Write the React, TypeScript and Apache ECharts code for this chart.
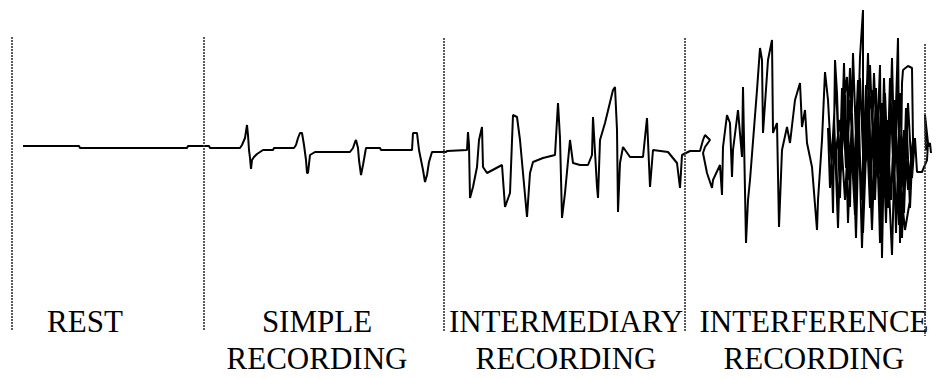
import React, { useEffect, useRef } from "react";
import * as echarts from "echarts";

// Time (arbitrary units, left → right) and amplitude (arbitrary units, up = positive)
const restTime = [23, 79, 80, 187, 188, 209, 210];
const restAmp = [2, 2, 0, 0, 2, 2, 0];

const simpleTime = [240, 242, 245, 247, 248, 249, 250, 251, 252, 254, 257, 260, 263, 273, 274, 294, 296, 298, 300, 302, 304, 306, 307, 308, 310, 315, 350, 353, 355, 356, 358, 359, 361, 363, 366, 380, 381, 412, 413, 417, 419, 421, 423, 425, 427, 429, 432, 446];
const simpleAmp = [0, 3, 10, 23, 13, -2, -10, -21, -12, -9, -6, -4, -2, -2, 0, 0, 3, 10, 15, 15, 3, -12, -25, -25, -7, -4, -4, 0, 6, 8, 0, -12, -27, -17, 0, 0, -2, -2, 15, 15, -2, -12, -22, -34, -27, -14, -4, -4];

const intermediaryTime = [447, 467, 468, 469, 470, 473, 477, 479, 482, 483, 487, 502, 505, 510, 513, 517, 520, 523, 527, 530, 533, 543, 555, 558, 560, 562, 565, 570, 573, 580, 588, 592, 593, 597, 598, 600, 605, 613, 615, 617, 618, 620, 623, 630, 643, 647, 650, 653, 668, 677, 680, 682];
const intermediaryAmp = [-3, -2, 16, 3, -50, -39, -19, 8, 21, -19, -25, -17, -59, -45, 33, 31, 8, -25, -69, -25, -14, -10, -7, 45, 10, -70, -45, 8, -15, -17, -17, -7, 31, -39, -50, 8, 25, 58, 61, 18, -64, -15, 1, -9, -9, 30, -39, -2, -4, -15, -40, -7];

const interferenceTime = [690, 700, 703, 705, 710, 705, 703, 707, 712, 713, 720, 722, 723, 727, 730, 732, 733, 738, 742, 743, 746, 748, 750, 757, 760, 762, 763, 768, 772, 773, 777, 779, 782, 787, 790, 795, 800, 802, 805, 807, 812, 817, 818, 822, 825, 828, 832, 833, 835, 837, 840, 843, 847, 850, 853, 857, 860, 863, 863, 867, 872, 875, 880, 882, 885, 888, 892, 895, 898, 900, 902, 903, 908, 912, 913, 910, 905, 900, 896, 893, 890, 886, 883, 879, 876, 872, 869, 866, 862, 858, 855, 851, 848, 845, 841, 838, 836, 840, 845, 850, 854, 858, 861, 866, 870, 874, 878, 882, 887, 891, 895, 899, 904, 908, 913, 910, 906, 902, 898, 894, 890, 886, 882, 878, 874, 870, 866, 862, 858, 854, 850, 846, 842, 838, 834, 830, 828, 832, 836, 840, 844, 848, 852, 856, 860, 864, 868, 872, 876, 880, 884, 888, 892, 896, 900, 904, 908, 912, 915, 917, 922, 927, 928, 925, 926, 930, 931];
const interferenceAmp = [-3, -3, 8, 13, 8, 1, -5, -25, -40, -32, -17, -47, 1, 33, 25, -29, -2, 38, -9, 61, -95, -52, -32, 58, 100, 88, 15, 88, 108, 15, 25, -79, -2, 21, 5, 48, 65, 21, 38, 5, -19, -82, -52, 8, 76, 48, -25, -65, 88, 55, -39, 41, 71, -59, 95, -19, 91, 138, -85, 21, 58, -52, 83, -110, 55, -19, -107, 8, 110, -95, 65, 78, 82, 80, 8, -52, -82, -32, -67, -2, 48, -42, 28, -57, 38, -82, -2, 63, -47, 28, -67, 8, -32, 53, -22, -62, -2, 28, -52, 48, -27, 68, -52, -12, 83, -22, 38, -72, 28, -52, 48, -77, 18, -42, 8, -60, 40, -90, 60, -40, 70, -75, 45, -30, 75, -60, 40, -100, 50, -40, 80, -20, 60, -80, 30, -40, 20, -10, 70, -50, 85, -75, 35, -90, 70, -30, 95, -70, 60, -95, 70, -60, 90, -85, 55, -65, 45, -30, 10, -24, -24, -12, 5, 33, -2, 5, -5];

// Section dividers (time), with their top / bottom amplitude extents
const dividerTime = [12, 204, 444, 685, 925];
const dividerTop = [111, 111, 110, 110, 104];
const dividerBottom = [-182, -182, -184, -184, -188];

const sectionLabels = ["REST", "SIMPLE\nRECORDING", "INTERMEDIARY\nRECORDING", "INTERFERENCE\nRECORDING"];

const labelX = [85, 317, 566, 814];

export default function App() {
  const ref = useRef<HTMLDivElement>(null);

  useEffect(() => {
    if (!ref.current) return;
    const chart = echarts.init(ref.current, null, { renderer: "svg" });

    const times = [...restTime, ...simpleTime, ...intermediaryTime, ...interferenceTime];
    const amps = [...restAmp, ...simpleAmp, ...intermediaryAmp, ...interferenceAmp];
    const data = times.map((t, i) => [t, amps[i]]);

    const markData = dividerTime.map((t, i) => [
      { coord: [t, dividerTop[i]] },
      { coord: [t, dividerBottom[i]] },
    ]);

    chart.setOption({
      animation: false,
      backgroundColor: "#ffffff",
      grid: { left: 0, right: 0, top: 0, bottom: 0 },
      xAxis: { type: "value", min: 0, max: 943, show: false },
      yAxis: { type: "value", min: -231, max: 148, show: false },
      series: [
        {
          type: "line",
          data,
          symbol: "none",
          lineStyle: { color: "#000000", width: 2 },
          silent: true,
          markLine: {
            silent: true,
            symbol: ["none", "none"],
            label: { show: false },
            lineStyle: { color: "#333333", width: 1.6, type: [2, 1] as any },
            data: markData as any,
          },
        },
      ],
      graphic: sectionLabels.map((txt, i) => ({
        type: "text",
        x: labelX[i],
        y: 303,
        style: {
          text: txt,
          fontFamily: "Liberation Serif",
          fontSize: 31,
          lineHeight: 37,
          fill: "#000000",
          align: "center",
          verticalAlign: "top",
        },
      })),
    });

    return () => chart.dispose();
  }, []);

  return (
    <div
      ref={ref}
      style={{ position: "absolute", left: 0, top: 0, width: 943, height: 379 }}
    />
  );
}
